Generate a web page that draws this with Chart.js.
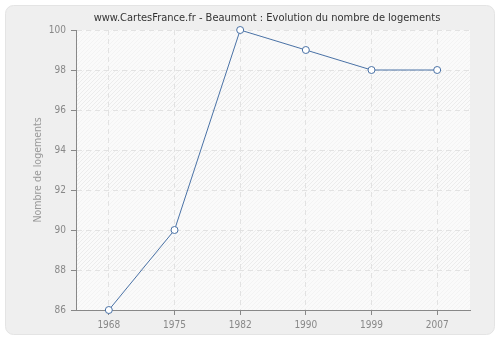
<!DOCTYPE html>
<html>
<head>
<meta charset="utf-8">
<script src="https://cdn.jsdelivr.net/npm/chart.js@4.4.0/dist/chart.umd.min.js"></script>
<style>
  html, body { margin: 0; padding: 0; background: #fff; }
  #wrap { width: 500px; height: 340px; }
</style>
</head>
<body>
<div id="wrap"><canvas id="chart" width="500" height="340"></canvas></div>
<script>
'use strict'

// data
var years = ["1968", "1975", "1982", "1990", "1999", "2007"];
var logements = [86, 90, 100, 99, 98, 98];
var yTicks = [86, 88, 90, 92, 94, 96, 98, 100];

var titleText = "www.CartesFrance.fr - Beaumont : Evolution du nombre de logements";
var yTitle = "Nombre de logements";

var fontName = "'DejaVu Sans Condensed', 'DejaVu Sans', sans-serif";

// background panel + hatched plot area
const panelPlugin = {
  id: 'panel',
  beforeDraw: function(chart) {
    var ctx = chart.ctx;
    ctx.save();
    ctx.fillStyle = '#ffffff';
    ctx.fillRect(0, 0, chart.width, chart.height);
    var x = 5.5, y = 5.5, w = chart.width - 11, h = chart.height - 11, r = 8;
    ctx.beginPath();
    ctx.moveTo(x + r, y);
    ctx.arcTo(x + w, y, x + w, y + h, r);
    ctx.arcTo(x + w, y + h, x, y + h, r);
    ctx.arcTo(x, y + h, x, y, r);
    ctx.arcTo(x, y, x + w, y, r);
    ctx.closePath();
    ctx.fillStyle = '#efefef';
    ctx.fill();
    ctx.strokeStyle = '#e4e4e4';
    ctx.lineWidth = 1;
    ctx.stroke();

    var a = chart.chartArea;
    var ys = chart.scales.y;
    ctx.fillStyle = '#fafafa';
    ctx.fillRect(a.left, a.top, a.right - a.left, a.bottom - a.top);
    for (var i = 0; i < yTicks.length - 1; i++) {
      var top = ys.getPixelForValue(yTicks[i + 1]);
      var bot = ys.getPixelForValue(yTicks[i]);
      ctx.save();
      ctx.beginPath();
      ctx.rect(a.left, top, a.right - a.left, bot - top);
      ctx.clip();
      ctx.strokeStyle = (i % 2 == 1) ? '#ececec' : '#f3f3f3';
      ctx.lineWidth = 1;
      ctx.beginPath();
      for (var k = -(a.bottom - a.top); k < a.right - a.left; k += 4) {
        ctx.moveTo(a.left + k, a.bottom);
        ctx.lineTo(a.left + k + (a.bottom - a.top), a.top);
      }
      ctx.stroke();
      ctx.restore();
    }

    // title, centred over the plot like the original
    ctx.fillStyle = '#333333';
    ctx.font = '11px ' + fontName;
    ctx.textAlign = 'center';
    ctx.textBaseline = 'middle';
    ctx.fillText(titleText, 267, 18);
    ctx.restore();
  }
};

const ctx = document.getElementById("chart").getContext('2d');

let chart = new Chart(ctx, {
  type: 'line',
  data: {
    labels: years,
    datasets: [{
      data: logements,
      borderColor: '#4a72a6',
      borderWidth: 1,
      backgroundColor: '#ffffff',
      pointBackgroundColor: '#ffffff',
      pointBorderColor: '#4a72a6',
      pointBorderWidth: 1,
      pointRadius: 3.5,
      tension: 0,
      clip: false
    }]
  },
  options: {
    responsive: false,
    animation: false,
    devicePixelRatio: 1,
    layout: { padding: { left: 0, right: 30, top: 30, bottom: 0 } },
    plugins: {
      legend: { display: false },
      tooltip: { enabled: false },
      title: { display: false }
    },
    scales: {
      x: {
        offset: true,
        grid: {
          offset: false,
          color: '#e2e2e2',
          tickLength: 5,
          tickColor: '#888888',
          tickBorderDash: []
        },
        border: { display: true, color: '#888888', width: 1, dash: [5, 4] },
        ticks: {
          color: '#888888',
          padding: 4,
          maxRotation: 0,
          font: { family: fontName, size: 10 }
        },
        afterFit: function(scale) { scale.height = 30; }
      },
      y: {
        min: 86,
        max: 100,
        afterBuildTicks: function(scale) {
          scale.ticks = yTicks.map(function(v) { return { value: v }; });
        },
        grid: {
          color: '#e2e2e2',
          tickLength: 5,
          tickColor: '#888888',
          tickBorderDash: []
        },
        border: { display: true, color: '#888888', width: 1, dash: [5, 4] },
        ticks: {
          color: '#888888',
          padding: 5,
          font: { family: fontName, size: 10 }
        },
        title: {
          display: true,
          text: yTitle,
          color: '#999999',
          font: { family: fontName, size: 10.5 },
          padding: { top: 32, bottom: 0 }
        },
        afterFit: function(scale) { scale.width = 76; }
      }
    }
  },
  plugins: [panelPlugin]
});
</script>
</body>
</html>
